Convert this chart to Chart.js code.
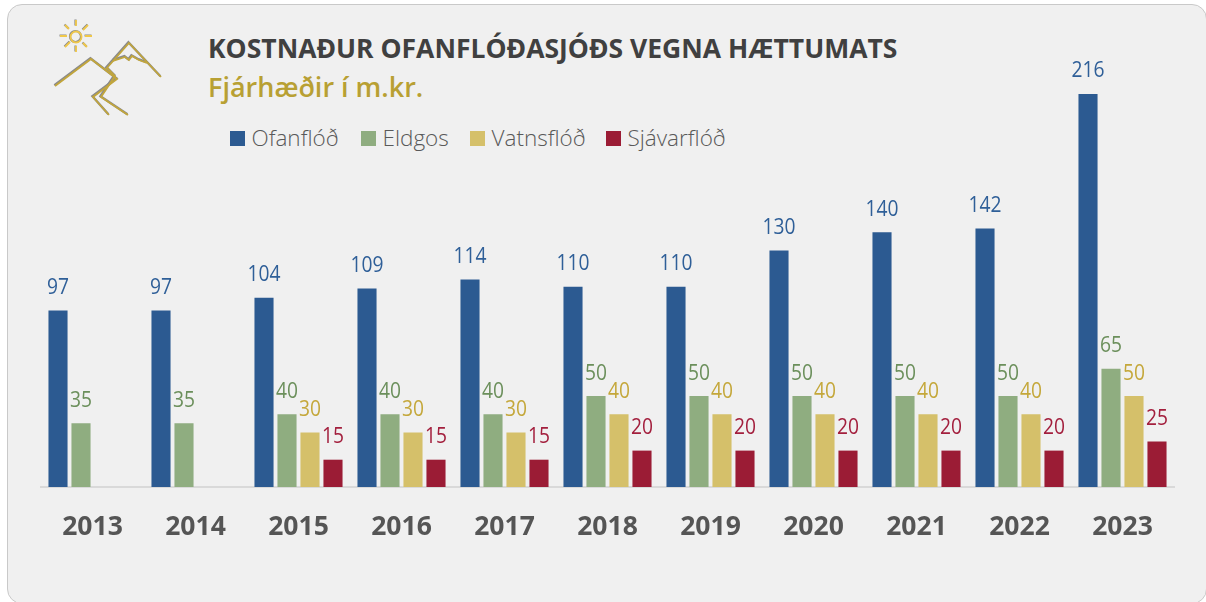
<!DOCTYPE html>
<html lang="is">
<head>
<meta charset="utf-8">
<title>Kostnaður Ofanflóðasjóðs vegna hættumats</title>
<script src="https://cdn.jsdelivr.net/npm/chart.js@4"></script>
<style>
  html, body { margin: 0; height: 100%; background: #fff; overflow: hidden; }
  body { width: 1206px; height: 602px; position: relative; font-family: 'Open Sans', sans-serif; }
  .card {
    position: absolute; left: 7px; top: 4px; width: 1200px; height: 600px;
    background: #f0f0f0; border: 1.5px solid #c9c9c9; border-radius: 15px; box-sizing: border-box;
  }
  canvas { position: absolute; left: 0; top: 0; }
  .logo { position: absolute; left: 50px; top: 15px; }
  .title { position: absolute; left: 208px; top: 30px; font-size: 26.5px; font-weight: 700; color: #404040; white-space: nowrap; }
  .subtitle { position: absolute; left: 208px; top: 68px; font-size: 27px; font-weight: 600; color: #b8a033; white-space: nowrap; }
  .legend span.swatch { position: absolute; top: 131px; width: 15px; height: 15px; }
  .legend span.text { position: absolute; top: 122px; font-size: 22.5px; font-weight: 300; color: #595959; white-space: nowrap; }
</style>
</head>
<body>
<div class="card"></div>
<svg class="logo" width="120" height="105" viewBox="50 15 120 105" fill="none" stroke-linejoin="miter">
  <defs>
    <g id="mountains">
      <path d="M55 86 L91 59 L117 79 L93 97 L109 115"/>
      <path d="M106 69 L129 43 L161 77"/>
      <path d="M107 68 L115 76 L101 97 L128 115"/>
      <path d="M113 61 L125 57 L129 60 L132 56 L139 60 L147 63"/>
    </g>
    <g id="sun">
      <circle cx="76" cy="37" r="5.5"/>
      <path d="M76 20 V26 M76 46 V52 M60 36 H67 M85 36 H92 M65 25 L69 29 M88 25 L83 30 M65 47 L70 42 M87 47 L83 43"/>
    </g>
  </defs>
  <use href="#mountains" stroke="#8a8a8a" stroke-width="2.4" transform="translate(-0.6,-0.8)"/>
  <use href="#mountains" stroke="#c2a63c" stroke-width="1.8"/>
  <use href="#sun" stroke="#8a8a8a" stroke-width="2.2" transform="translate(-0.5,-0.5)"/>
  <use href="#sun" stroke="#f0c84a" stroke-width="1.8"/>
</svg>
<div class="title">KOSTNAÐUR OFANFLÓÐASJÓÐS VEGNA HÆTTUMATS</div>
<div class="subtitle">Fjárhæðir í m.kr.</div>
<div class="legend" id="legend"></div>
<canvas id="costChart" width="1206" height="602"></canvas>
<script>
  const years = ['2013', '2014', '2015', '2016', '2017', '2018', '2019', '2020', '2021', '2022', '2023'];
  const ofanflod = [97, 97, 104, 109, 114, 110, 110, 130, 140, 142, 216];
  const eldgos = [35, 35, 40, 40, 40, 50, 50, 50, 50, 50, 65];
  const vatnsflod = [null, null, 30, 30, 30, 40, 40, 40, 40, 40, 50];
  const sjavarflod = [null, null, 15, 15, 15, 20, 20, 20, 20, 20, 25];

  const seriesNames = ['Ofanflóð', 'Eldgos', 'Vatnsflóð', 'Sjávarflóð'];
  const barColors = ['#2c5a91', '#8fad80', '#d5c06a', '#9b1c35'];
  const labelColors = ['#2f5f98', '#6b8f5b', '#c4a73a', '#a31f3d'];
  const legendX = [230, 361, 470, 606];

  /* ── value labels above each bar, squeezed a little to keep the narrow digits ── */
  const barLabels = {
    id: 'barLabels',
    afterDatasetsDraw(chart) {
      const c = chart.ctx;
      c.save();
      c.font = "21px 'Open Sans'";
      c.textAlign = 'center';
      c.textBaseline = 'alphabetic';
      chart.data.datasets.forEach((ds, i) => {
        c.fillStyle = labelColors[i];
        chart.getDatasetMeta(i).data.forEach((bar, j) => {
          if (ds.data[j] == null) return;
          const text = String(ds.data[j]);
          c.fillText(text, bar.x, bar.y - 16.5, text.length * 11);
        });
      });
      c.restore();
    }
  };

  /* ── legend as plain text next to the title ── */
  const legend = document.getElementById('legend');
  seriesNames.forEach((name, i) => {
    legend.insertAdjacentHTML('beforeend',
      `<span class="swatch" style="left:${legendX[i]}px;background:${barColors[i]}"></span>` +
      `<span class="text" style="left:${legendX[i] + 21.5}px">${name}</span>`);
  });

  new Chart(document.getElementById('costChart'), {
    type: 'bar',
    data: {
      labels: years,
      datasets: [ofanflod, eldgos, vatnsflod, sjavarflod].map((values, i) => ({
        label: seriesNames[i],
        data: values,
        backgroundColor: barColors[i],
        barPercentage: 0.83,
        categoryPercentage: 0.893
      }))
    },
    options: {
      responsive: false,
      animation: false,
      layout: { padding: { left: 41, right: 32, top: 32, bottom: 0 } },
      plugins: { legend: { display: false }, tooltip: { enabled: false } },
      scales: {
        x: {
          grid: { display: false, drawTicks: false },
          border: { color: '#d9d9d9', width: 2 },
          ticks: {
            padding: 25,
            color: '#555555',
            font: { size: 26.5, weight: '700', family: "'Open Sans'" },
            maxRotation: 0
          },
          afterFit: scale => { scale.height = 115; }
        },
        y: { display: false, min: 0, max: 250 }
      }
    },
    plugins: [barLabels]
  });
</script>
</body>
</html>
